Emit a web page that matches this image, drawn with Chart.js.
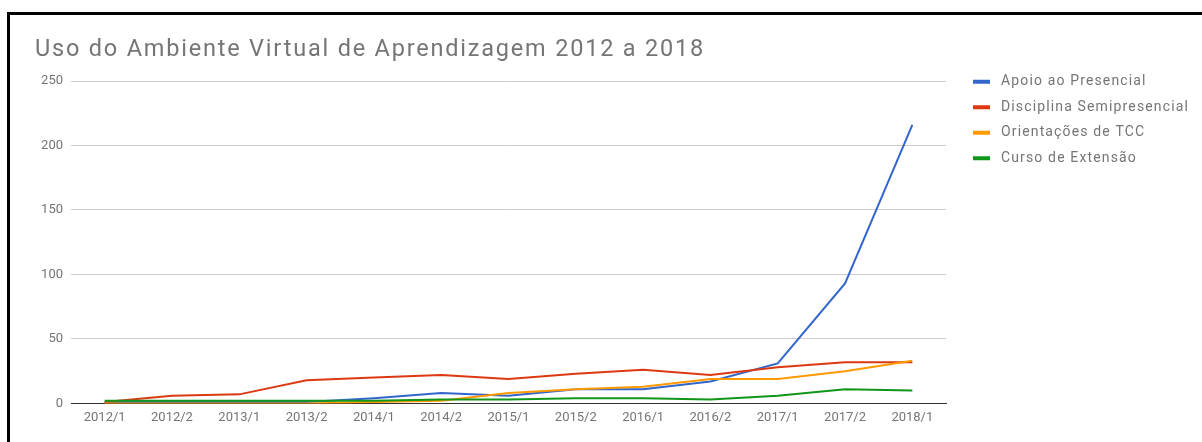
<!DOCTYPE html>
<html>
<head>
<meta charset="utf-8">
<script src="https://cdn.jsdelivr.net/npm/chart.js@4/dist/chart.umd.min.js"></script>
<style>
  html, body { margin: 0; padding: 0; background: #fff; }
  #wrap { position: relative; width: 1202px; height: 442px; overflow: hidden; }
  #frame { position: absolute; left: 7px; top: 12px; width: 1300px; height: 500px;
           border-left: 3px solid #000; border-top: 3px solid #000; box-sizing: border-box; }
  canvas { position: absolute; left: 0; top: 0; }
</style>
</head>
<body>
<div id="wrap">
  <div id="frame"></div>
  <canvas id="c" width="1202" height="442"></canvas>
</div>
<script>
const chartTitle = "Uso do Ambiente Virtual de Aprendizagem 2012 a 2018";
const categories = ["2012/1","2012/2","2013/1","2013/2","2014/1","2014/2","2015/1","2015/2","2016/1","2016/2","2017/1","2017/2","2018/1"];
const seriesNames = ["Apoio ao Presencial","Disciplina Semipresencial","Orientações de TCC","Curso de Extensão"];
const apoioPresencial = [1,1,1,1,4,8,6,11,11,17,31,93,216];
const disciplinaSemipresencial = [1,6,7,18,20,22,19,23,26,22,28,32,32];
const orientacoesTCC = [0,0,0,0,1,2,8,11,13,19,19,25,33];
const cursoExtensao = [2,2,2,2,2,3,3,4,4,3,6,11,10];
const yTicks = [0,50,100,150,200,250];

const colors = ["#3366cc","#dc3912","#ff9900","#109618"];
const values = [apoioPresencial, disciplinaSemipresencial, orientacoesTCC, cursoExtensao];

// letter spacing so text widths match the reference
const mctx = document.createElement('canvas').getContext('2d');
mctx.font = '23.5px Roboto';
const titleSpacing = Math.max(0, (670 - mctx.measureText(chartTitle).width) / chartTitle.length);
mctx.font = '14px Roboto';
const legendSpacing = Math.max(0, (188 - mctx.measureText(seriesNames[1]).width) / seriesNames[1].length);

const LEG_FS = 14, LEG_PAD = 11.5, LEG_X = 973, LEG_Y = 81.8;

const legendPos = {
  id: 'legendPos',
  afterLayout(chart) {
    const lg = chart.legend;
    if (!lg) return;
    const h = 200;
    lg.left = LEG_X - LEG_PAD; lg.right = lg.left + 260; lg.width = 260;
    lg.top = LEG_Y - LEG_FS / 2 - LEG_PAD; lg.bottom = lg.top + h; lg.height = h;
  }
};

const chart = new Chart(document.getElementById('c'), {
  type: 'line',
  data: {
    labels: categories,
    datasets: values.map((v, i) => ({
      label: seriesNames[i],
      data: v,
      borderColor: colors[i],
      backgroundColor: colors[i],
      borderWidth: 2,
      pointRadius: 0,
      tension: 0,
      fill: false,
      order: 4 - i
    }))
  },
  plugins: [legendPos],
  options: {
    responsive: false,
    animation: false,
    layout: { padding: { left: 35, top: 0, right: 106, bottom: 9 } },
    plugins: {
      tooltip: { enabled: false },
      title: {
        display: true,
        text: chartTitle,
        align: 'start',
        color: '#757575',
        font: { family: 'Roboto', size: 23.5, weight: 'normal' },
        padding: { top: 35.9, bottom: 16.9 }
      },
      legend: {
        display: true,
        position: 'right',
        align: 'start',
        fullSize: false,
        maxWidth: 150,
        labels: {
          color: '#757575',
          font: { family: 'Roboto', size: LEG_FS },
          boxWidth: 21,
          boxHeight: 4,
          padding: LEG_PAD,
          sort: (a, b) => a.datasetIndex - b.datasetIndex,
          generateLabels(chart) {
            return chart.data.datasets.map((ds, i) => {
              const g = chart.ctx.createLinearGradient(LEG_X, 0, LEG_X + 21, 0);
              g.addColorStop(0, ds.borderColor);
              g.addColorStop(17 / 21, ds.borderColor);
              g.addColorStop(17 / 21, 'rgba(255,255,255,0)');
              g.addColorStop(1, 'rgba(255,255,255,0)');
              return {
                text: ds.label,
                fillStyle: g,
                strokeStyle: ds.borderColor,
                fontColor: '#757575',
                lineWidth: 0,
                datasetIndex: i,
                hidden: false
              };
            });
          }
        }
      }
    },
    scales: {
      x: {
        offset: true,
        grid: { display: false, drawTicks: false },
        border: { display: true, color: '#333333', width: 1 },
        ticks: {
          color: '#757575',
          font: { family: 'Roboto', size: 13 },
          padding: 7,
          autoSkip: false,
          maxRotation: 0
        }
      },
      y: {
        min: 0,
        max: 250,
        afterFit(scale) { scale.width = 36; },
        afterBuildTicks(scale) { scale.ticks = yTicks.map(v => ({ value: v })); },
        grid: {
          drawTicks: false,
          color: ctx => (ctx.tick && ctx.tick.value === 0) ? '#333333' : '#cccccc',
          lineWidth: 1
        },
        border: { display: false },
        ticks: {
          color: '#757575',
          font: { family: 'Roboto', size: 13 },
          padding: 8
        }
      }
    }
  }
});

function withSpacing(box, sp) {
  if (!box) return;
  const orig = box.draw.bind(box);
  box.draw = function (a) {
    const ctx = this.ctx;
    const prev = ctx.letterSpacing;
    ctx.letterSpacing = sp + 'px';
    orig(a);
    ctx.letterSpacing = prev;
  };
}
withSpacing(chart.titleBlock, titleSpacing);
withSpacing(chart.legend, legendSpacing);
chart.draw();
</script>
</body>
</html>
